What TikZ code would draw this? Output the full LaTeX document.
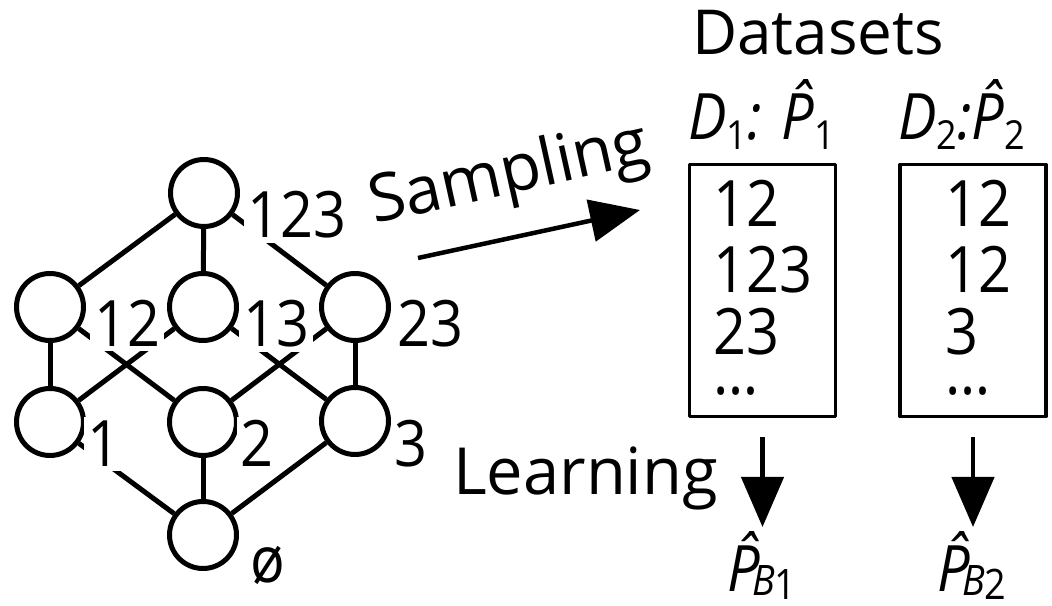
\documentclass[tikz,border=0pt]{standalone}
\usepackage{fontspec}
\setmainfont{Open Sans}[FakeStretch=0.9]
\newfontfamily\wordfont{Open Sans}
\usetikzlibrary{arrows.meta}

\newcommand\dsub[1]{\raisebox{-10pt}{\fontsize{40}{40}\selectfont\upshape #1}}
\newcommand\bsub[1]{\kern-7pt\raisebox{-4pt}{\fontsize{42}{42}\selectfont\itshape B\kern-1pt\raisebox{-4pt}{\upshape #1}}}

\begin{document}
\begin{tikzpicture}[x=1pt,y=1pt,line join=round,
    vtx/.style={circle,draw,line width=5pt,fill=white,minimum size=67pt,inner sep=0pt},
    edge/.style={line width=5pt},
    lbl/.style={font=\fontsize{64}{64}\selectfont,fill=white,inner sep=4pt,anchor=base},
    txt/.style={font=\fontsize{64}{64}\selectfont,inner sep=0pt,anchor=base west},
    dbox/.style={draw,line width=3.5pt,minimum width=146pt,minimum height=252pt,inner sep=0pt},
    arr/.style={line width=4.5pt,-{Triangle[width=42pt,length=50pt]}}]
    \useasboundingbox (0,0) rectangle (1052,605);

    % Lattice of subsets
    \node[vtx] (v123) at (204,412) {};
    \node[vtx] (v12) at (50,298) {};
    \node[vtx] (v13) at (203,298) {};
    \node[vtx] (v23) at (355,298) {};
    \node[vtx] (v1) at (50,183) {};
    \node[vtx] (v2) at (203,183) {};
    \node[vtx] (v3) at (355,184) {};
    \node[vtx] (v0) at (203,70) {};

    \foreach \from/\to in {v123/v12, v123/v13, v123/v23, v12/v1, v12/v2, v13/v1, v13/v3,
                           v23/v2, v23/v3, v1/v0, v2/v0, v3/v0}
      \draw[edge] (\from) -- (\to);

    % Labels over the edges
    \node[lbl] (l123) at (297,367) {123};
    \node[lbl] (l12) at (127,258) {12};
    \node[lbl] (l13) at (276,258) {13};
    \node[lbl] (l23) at (430,258) {23};
    \node[lbl] (l1) at (104,138) {1};
    \node[lbl] (l2) at (257,138) {2};
    \node[lbl] (l3) at (411,138) {3};
    \node[lbl] (l0) at (268,22) {ø};

    % Sampling
    \coordinate (sa) at (418,347);
    \coordinate (sb) at (640,395);
    \draw[arr] (sa) -- (sb);
    \node[txt,font=\wordfont\fontsize{66}{66}\selectfont,rotate=12.5] (samp) at (374,381) {Sampling};

    % Datasets
    \node[txt,font=\wordfont\fontsize{62}{62}\selectfont] (dsets) at (692,550) {Datasets};
    \node[txt] (d1) at (688,465) {\itshape D\dsub{1}: \^{P}\dsub{1}};
    \node[txt] (d2) at (898,465) {\itshape D\dsub{2}:\^{P}\dsub{2}};

    \node[dbox] (box1) at (762.5,314.5) {};
    \node[dbox] (box2) at (973,314.5) {};
    \foreach \y/\s in {378/12, 312/123, 250/23, 210/…}
      \node[txt] at (713,\y) {\s};
    \foreach \y/\s in {378/12, 312/12, 250/3, 210/…}
      \node[txt] at (945,\y) {\s};

    % Learning
    \node[txt,font=\wordfont\fontsize{65}{65}\selectfont] (learn) at (453,110) {Learning};
    \node[txt] (pb1) at (727,13) {\itshape\^{P}\bsub{1}};
    \node[txt] (pb2) at (937,13) {\itshape\^{P}\bsub{2}};
    \draw[arr,shorten <=19pt] (box1.south) -- (box1.south |- 0,78);
    \draw[arr,shorten <=19pt] (box2.south) -- (box2.south |- 0,78);
  \end{tikzpicture}
\end{document}
